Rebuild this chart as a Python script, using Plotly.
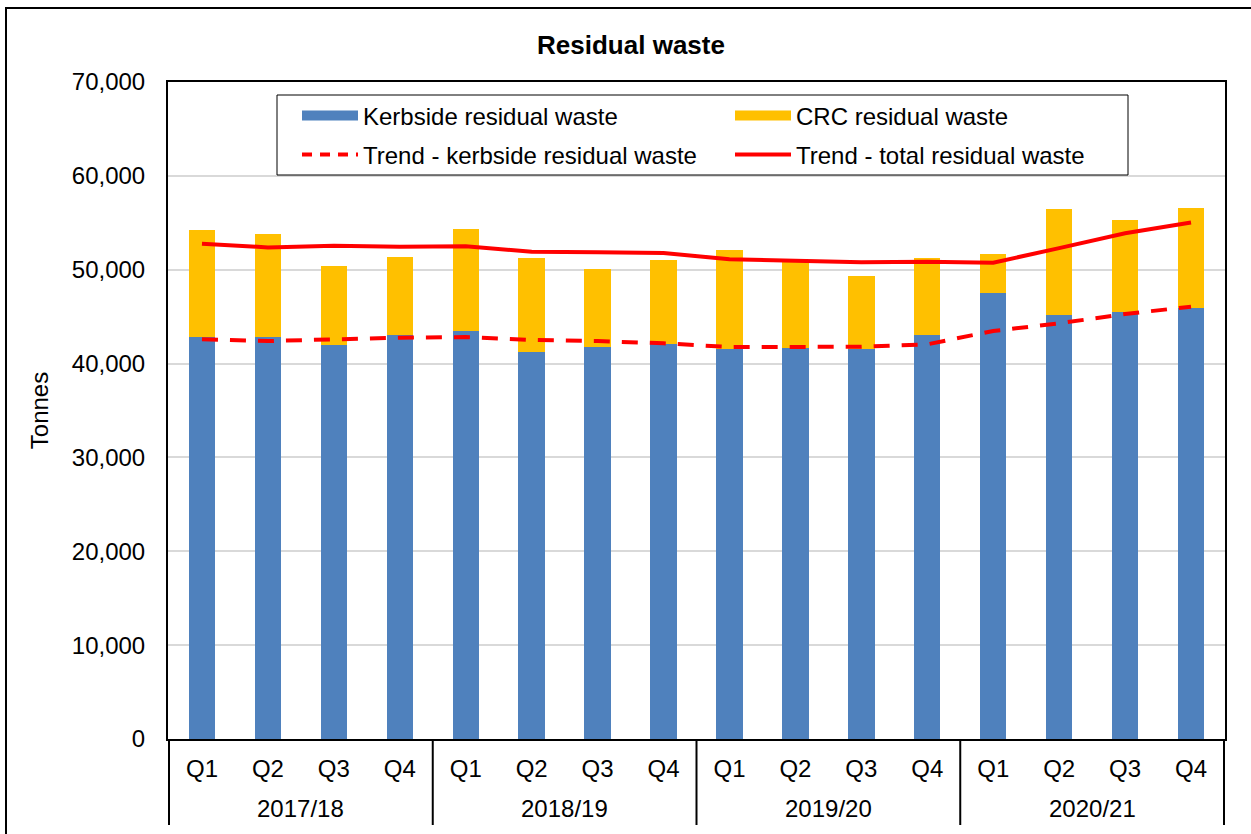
import plotly.graph_objects as go

years = ["2017/18"] * 4 + ["2018/19"] * 4 + ["2019/20"] * 4 + ["2020/21"] * 4
quarters = ["Q1", "Q2", "Q3", "Q4"] * 4

kerbside = [42830, 42830, 41980, 43010, 43470, 41270, 41800, 42080,
            41590, 41700, 41590, 43040, 47480, 45170, 45490, 45950]
crc = [11400, 10970, 8450, 8310, 10870, 9980, 8270, 8950,
       10480, 9200, 7740, 8210, 4160, 11300, 9840, 10620]
trend_kerbside = [42580, 42400, 42580, 42760, 42830, 42510, 42400, 42160,
                  41760, 41790, 41790, 42050, 43470, 44290, 45280, 46060]
trend_total = [52770, 52380, 52560, 52460, 52500, 51920, 51850, 51790,
               51110, 50960, 50790, 50850, 50750, 52300, 53880, 55030]

FONT = "Liberation Sans, Arial, sans-serif"
BLUE = "#4F81BD"
GOLD = "#FFC000"
RED = "#FF0000"

# unique category keys, displayed as quarter labels; years drawn as a second row
cats = [f"{y} {q}" for y, q in zip(years, quarters)]

fig = go.Figure()
fig.add_trace(go.Bar(x=cats, y=kerbside, name="Kerbside residual waste", showlegend=False,
                     marker=dict(color=BLUE, line=dict(width=0))))
fig.add_trace(go.Bar(x=cats, y=crc, name="CRC residual waste", showlegend=False,
                     marker=dict(color=GOLD, line=dict(width=0))))
fig.add_trace(go.Scatter(x=cats, y=trend_kerbside, name="Trend - kerbside residual waste",
                         mode="lines", showlegend=False,
                         line=dict(color=RED, width=4, dash="16px,12px")))
fig.add_trace(go.Scatter(x=cats, y=trend_total, name="Trend - total residual waste",
                         mode="lines", showlegend=False,
                         line=dict(color=RED, width=4)))

# legend entries (two rows, each its own legend)
lx = [cats[0]]
fig.add_trace(go.Scatter(x=lx, y=[None], mode="lines", name="Kerbside residual waste",
                         line=dict(color=BLUE, width=14), legend="legend"))
fig.add_trace(go.Scatter(x=lx, y=[None], mode="lines", name="CRC residual waste",
                         line=dict(color=GOLD, width=14), legend="legend"))
fig.add_trace(go.Scatter(x=lx, y=[None], mode="lines", name="Trend - kerbside residual waste",
                         line=dict(color=RED, width=4, dash="10px,8px"), legend="legend2"))
fig.add_trace(go.Scatter(x=lx, y=[None], mode="lines", name="Trend - total residual waste",
                         line=dict(color=RED, width=4), legend="legend2"))

leg_common = dict(orientation="h", x=(297 - 168) / 1057, xanchor="left", yanchor="middle",
                  borderwidth=0, bgcolor="rgba(0,0,0,0)",
                  entrywidth=362, entrywidthmode="pixels", itemwidth=56,
                  font=dict(size=24, family=FONT, color="black"), traceorder="normal")

fig.update_layout(
    width=1251, height=834,
    margin=dict(l=168, r=26, t=82, b=95),
    paper_bgcolor="white", plot_bgcolor="white",
    barmode="stack", bargap=0.6,
    font=dict(family=FONT, size=24, color="black"),
    title=dict(text="<b>Residual waste</b>", font=dict(size=26, family=FONT, color="black"),
               x=631 / 1251, xref="container", xanchor="center",
               y=1 - 45 / 834, yref="container", yanchor="middle"),
    legend=dict(leg_common, y=(739 - 116) / 657),
    legend2=dict(leg_common, y=(739 - 155) / 657),
    showlegend=True,
)

fig.update_xaxes(
    type="category", categoryorder="array", categoryarray=cats,
    tickvals=cats, ticktext=quarters, tickangle=0,
    showline=True, linecolor="black", linewidth=2, mirror=True,
    showgrid=False, ticks="", ticklabelstandoff=7,
    tickfont=dict(size=24, family=FONT, color="black"),
)
fig.update_yaxes(
    range=[0, 70000], dtick=10000, tickformat=",",
    showline=True, linecolor="black", linewidth=2, mirror=True,
    showgrid=True, gridcolor="#D9D9D9", gridwidth=2,
    ticks="", ticklabelstandoff=16,
    tickfont=dict(size=24, family=FONT, color="black"),
    title=dict(text="Tonnes", font=dict(size=24, family=FONT, color="black"), standoff=16),
    zeroline=False,
)

# year group labels and dividers, derived from the category list
groups = []
for i, yv in enumerate(years):
    if not groups or groups[-1][0] != yv:
        groups.append([yv, i, i])
    else:
        groups[-1][2] = i
DIV_Y = -(825 - 739) / 657
for yv, i0, i1 in groups:
    fig.add_annotation(x=(i0 + i1) / 2, y=-(808 - 739) / 657, xref="x", yref="paper",
                       text=yv, showarrow=False, yanchor="middle",
                       font=dict(size=24, family=FONT, color="black"))
    fig.add_shape(type="line", xref="x", yref="paper", x0=i0 - 0.5, x1=i0 - 0.5,
                  y0=0, y1=DIV_Y, line=dict(color="black", width=2))
fig.add_shape(type="line", xref="x", yref="paper", x0=len(cats) - 0.5, x1=len(cats) - 0.5,
              y0=0, y1=DIV_Y, line=dict(color="black", width=2))

# legend box
fig.add_shape(type="rect", xref="paper", yref="paper",
              x0=(277 - 168) / 1057, x1=(1128 - 168) / 1057,
              y0=(739 - 175) / 657, y1=(739 - 95) / 657,
              line=dict(color="black", width=1), fillcolor="white", layer="above")

# outer chart frame
fig.add_shape(type="rect", xref="paper", yref="paper",
              x0=(6 - 168) / 1057, x1=1.2, y0=-0.3, y1=(739 - 8) / 657,
              line=dict(color="black", width=2), fillcolor="rgba(0,0,0,0)", layer="above")

fig.write_html("out.html")
